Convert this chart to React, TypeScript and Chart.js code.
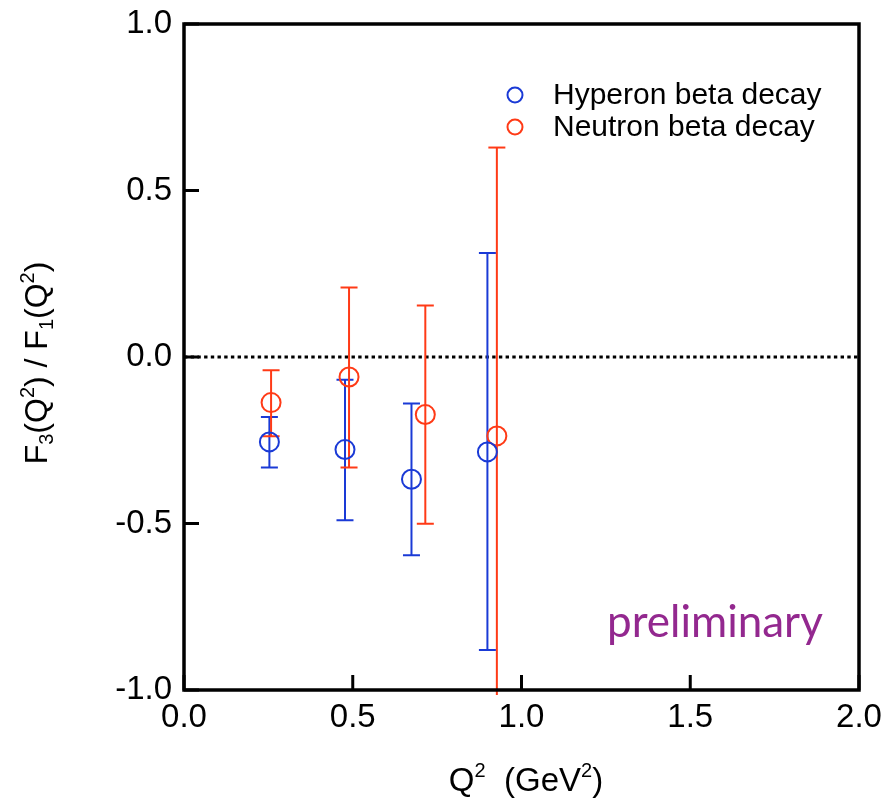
import React, { useEffect, useRef } from "react";
import { Chart, registerables } from "chart.js";

Chart.register(...registerables);

// ---- data ----
const hyperonQ2 = [0.253, 0.477, 0.674, 0.899];
const hyperonRatio = [-0.255, -0.278, -0.367, -0.285];
const hyperonUpper = [-0.18, -0.068, -0.14, 0.312];
const hyperonLower = [-0.332, -0.49, -0.595, -0.88];

const neutronQ2 = [0.258, 0.489, 0.715, 0.927];
const neutronRatio = [-0.137, -0.06, -0.173, -0.237];
const neutronUpper = [-0.04, 0.209, 0.155, 0.629];
const neutronLower = [-0.238, -0.332, -0.501, -1.015];

const xTickValues = [0, 0.5, 1.0, 1.5, 2.0];
const yTickValues = [-1.0, -0.5, 0.0, 0.5, 1.0];
const seriesLabels = ["Hyperon beta decay", "Neutron beta decay"];
const watermark = "preliminary";

const BLUE = "#1a3ad6";
const RED = "#ff3a16";
const PURPLE = "#93288f";
const FONT = "'Liberation Sans', Arial, Helvetica, sans-serif";

type Piece = { t: string; s?: "sub" | "sup" };

function drawRich(ctx: CanvasRenderingContext2D, pieces: Piece[], cx: number, baseline: number, size: number) {
  const small = Math.round(size * 0.62);
  const widths = pieces.map((p) => {
    ctx.font = `${p.s ? small : size}px ${FONT}`;
    return ctx.measureText(p.t).width;
  });
  const total = widths.reduce((a, b) => a + b, 0);
  let x = cx - total / 2;
  ctx.textAlign = "left";
  ctx.textBaseline = "alphabetic";
  pieces.forEach((p, i) => {
    ctx.font = `${p.s ? small : size}px ${FONT}`;
    let dy = 0;
    if (p.s === "sub") dy = size * 0.2;
    if (p.s === "sup") dy = -size * 0.42;
    ctx.fillText(p.t, x, baseline + dy);
    x += widths[i];
  });
}

const decorPlugin = {
  id: "decor",
  beforeDatasetsDraw(chart: any) {
    const { ctx, chartArea, scales } = chart;
    const xs = scales.x;
    const ys = scales.y;
    ctx.save();
    // dotted zero line
    const y0 = ys.getPixelForValue(0);
    ctx.strokeStyle = "#000";
    ctx.lineWidth = 3;
    ctx.setLineDash([3.4, 3.3]);
    ctx.beginPath();
    ctx.moveTo(chartArea.left, y0);
    ctx.lineTo(chartArea.right, y0);
    ctx.stroke();
    ctx.setLineDash([]);

    // error bars
    const drawErr = (xv: number[], up: number[], lo: number[], color: string) => {
      ctx.strokeStyle = color;
      ctx.lineWidth = 2;
      xv.forEach((v, i) => {
        const px = xs.getPixelForValue(v);
        const pTop = ys.getPixelForValue(up[i]);
        const pBot = ys.getPixelForValue(lo[i]);
        ctx.beginPath();
        ctx.moveTo(px, pTop);
        ctx.lineTo(px, pBot);
        ctx.stroke();
        const cap = 8.5;
        ctx.beginPath();
        ctx.moveTo(px - cap, pTop);
        ctx.lineTo(px + cap, pTop);
        if (lo[i] >= ys.min) {
          ctx.moveTo(px - cap, pBot);
          ctx.lineTo(px + cap, pBot);
        }
        ctx.stroke();
      });
    };
    drawErr(hyperonQ2, hyperonUpper, hyperonLower, BLUE);
    drawErr(neutronQ2, neutronUpper, neutronLower, RED);
    ctx.restore();
  },
  afterDraw(chart: any) {
    const { ctx, chartArea, scales } = chart;
    const xs = scales.x;
    const ys = scales.y;
    ctx.save();
    // frame
    ctx.strokeStyle = "#000";
    ctx.lineWidth = 3.5;
    ctx.strokeRect(chartArea.left, chartArea.top, chartArea.right - chartArea.left, chartArea.bottom - chartArea.top);
    // inward ticks
    ctx.lineWidth = 3;
    const tl = 15;
    xTickValues.forEach((v) => {
      const px = xs.getPixelForValue(v);
      ctx.beginPath();
      ctx.moveTo(px, chartArea.bottom);
      ctx.lineTo(px, chartArea.bottom - tl);
      ctx.stroke();
    });
    yTickValues.forEach((v) => {
      const py = ys.getPixelForValue(v);
      ctx.beginPath();
      ctx.moveTo(chartArea.left, py);
      ctx.lineTo(chartArea.left + tl, py);
      ctx.stroke();
    });

    // legend
    const legendItems = [
      { label: seriesLabels[0], color: BLUE, y: 95 },
      { label: seriesLabels[1], color: RED, y: 127 },
    ];
    legendItems.forEach((it) => {
      ctx.strokeStyle = it.color;
      ctx.lineWidth = 2;
      ctx.beginPath();
      ctx.arc(515, it.y, 7.5, 0, Math.PI * 2);
      ctx.stroke();
      ctx.fillStyle = "#000";
      ctx.font = `30px ${FONT}`;
      ctx.textAlign = "left";
      ctx.textBaseline = "middle";
      ctx.fillText(it.label, 553, it.y + 1);
    });

    // watermark
    ctx.fillStyle = PURPLE;
    ctx.font = `44px Lato, 'Open Sans', sans-serif`;
    ctx.textAlign = "left";
    ctx.textBaseline = "alphabetic";
    ctx.fillText(watermark, 607, 637);

    // axis titles
    ctx.fillStyle = "#000";
    drawRich(ctx, [{ t: "Q" }, { t: "2", s: "sup" }, { t: "  (GeV" }, { t: "2", s: "sup" }, { t: ")" }], 526, 791, 33);
    ctx.save();
    ctx.translate(47, 363);
    ctx.rotate(-Math.PI / 2);
    drawRich(
      ctx,
      [
        { t: "F" },
        { t: "3", s: "sub" },
        { t: "(Q" },
        { t: "2", s: "sup" },
        { t: ") / F" },
        { t: "1", s: "sub" },
        { t: "(Q" },
        { t: "2", s: "sup" },
        { t: ")" },
      ],
      0,
      0,
      32
    );
    ctx.restore();
    ctx.restore();
  },
};

const zeroPad = (s: any) => {
  s.paddingTop = 0;
  s.paddingBottom = 0;
  s.paddingLeft = 0;
  s.paddingRight = 0;
};

export default function App() {
  const ref = useRef<HTMLCanvasElement | null>(null);
  useEffect(() => {
    if (!ref.current) return;
    const chart = new Chart(ref.current, {
      type: "scatter",
      data: {
        datasets: [
          {
            label: seriesLabels[0],
            data: hyperonQ2.map((x, i) => ({ x, y: hyperonRatio[i] })),
            borderColor: BLUE,
            backgroundColor: "rgba(0,0,0,0)",
            pointRadius: 9.5,
            pointBorderWidth: 2,
            pointHoverRadius: 9.5,
          },
          {
            label: seriesLabels[1],
            data: neutronQ2.map((x, i) => ({ x, y: neutronRatio[i] })),
            borderColor: RED,
            backgroundColor: "rgba(0,0,0,0)",
            pointRadius: 9.5,
            pointBorderWidth: 2,
            pointHoverRadius: 9.5,
          },
        ],
      },
      options: {
        animation: false,
        responsive: false,
        maintainAspectRatio: false,
        events: [],
        layout: { padding: { top: 24, right: 36, bottom: 0, left: 0 } },
        plugins: { legend: { display: false }, tooltip: { enabled: false } },
        scales: {
          x: {
            type: "linear",
            min: 0,
            max: 2,
            afterBuildTicks: (s: any) => {
              s.ticks = xTickValues.map((v) => ({ value: v }));
            },
            ticks: {
              callback: (v: any) => Number(v).toFixed(1),
              font: { family: FONT, size: 33 },
              color: "#000",
              padding: 8,
              maxRotation: 0,
              autoSkip: false,
            },
            grid: { display: false, drawTicks: false },
            border: { display: false },
            afterFit: (s: any) => {
              s.height = 114;
              zeroPad(s);
            },
          },
          y: {
            type: "linear",
            min: -1,
            max: 1,
            afterBuildTicks: (s: any) => {
              s.ticks = yTickValues.map((v) => ({ value: v }));
            },
            ticks: {
              callback: (v: any) => Number(v).toFixed(1),
              font: { family: FONT, size: 33 },
              color: "#000",
              padding: 12,
              autoSkip: false,
            },
            grid: { display: false, drawTicks: false },
            border: { display: false },
            afterFit: (s: any) => {
              s.width = 184;
              zeroPad(s);
            },
          },
        },
      } as any,
      plugins: [decorPlugin],
    });
    return () => chart.destroy();
  }, []);
  return (
    <div style={{ position: "absolute", left: 0, top: 0, width: 895, height: 804, background: "#fff" }}>
      <canvas ref={ref} width={895} height={804} style={{ width: 895, height: 804, display: "block" }} />
    </div>
  );
}
